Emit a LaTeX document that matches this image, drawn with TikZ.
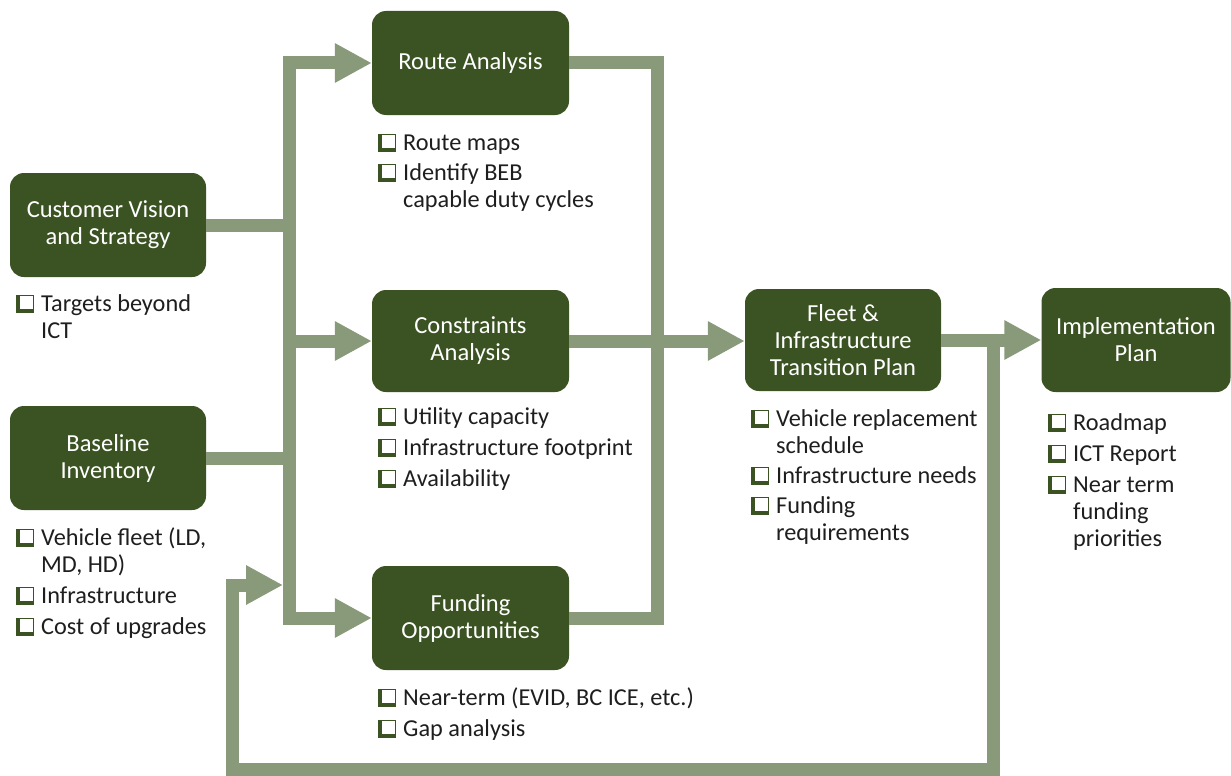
\documentclass[tikz,border=0pt]{standalone}
\usepackage{fontspec}
\setmainfont{Carlito}
\usetikzlibrary{arrows.meta}
\definecolor{boxgreen}{HTML}{3B5323}
\definecolor{bargreen}{HTML}{889A79}
\definecolor{txt}{HTML}{1E1E1E}
\newcommand\cbx{\tikz[baseline=0pt,x=1pt,y=1pt]{\fill[boxgreen](-1,-2)rectangle(17,16);\filldraw[fill=white,draw=boxgreen,line width=1pt](2.6,1.4)rectangle(16.4,15.4);}}
\newcommand\itm[1]{\makebox[25pt][l]{\cbx}#1}
\newcommand\cnt[1]{\hspace*{25pt}#1}
\tikzset{
  gbox/.style={rounded corners=14pt, fill=boxgreen, text=white, align=center, inner sep=0pt,
    font=\fontsize{24.5}{27}\selectfont},
  blist/.style={anchor=base west, align=left, inner sep=0pt, text=txt,
    font=\fontsize{24.3}{27}\selectfont},
  bar/.style={draw=bargreen, line width=13pt, line join=miter},
  tip/.style={-{Triangle[length=37pt,width=37pt]}},
}
\begin{document}
\begin{tikzpicture}[x=1pt,y=-1pt]
\useasboundingbox (0,0) rectangle (1231,776);
% boxes
\node[gbox, minimum width=196pt, minimum height=104pt] (cv) at (108,225) {Customer Vision\\and Strategy};
\node[gbox, minimum width=196pt, minimum height=104pt] (ba) at (108,458) {Baseline\\Inventory};
\node[gbox, minimum width=197pt, minimum height=104pt] (ra) at (470.5,63) {Route Analysis};
\node[gbox, minimum width=197pt, minimum height=102pt] (co) at (470.5,341) {Constraints\\Analysis};
\node[gbox, minimum width=197pt, minimum height=104pt] (fo) at (470.5,618) {Funding\\Opportunities};
\node[gbox, minimum width=196pt, minimum height=102pt] (fl) at (843,340) {Fleet \&\\Infrastructure\\Transition Plan};
\node[gbox, minimum width=189pt, minimum height=104pt] (im) at (1136,340) {Implementation\\Plan};
% lists (anchored at the baseline of their last line)
\node[blist] (cvL) at (16,338) {\itm{Targets beyond}\\\cnt{ICT}};
\node[blist] (baL) at (16,634) {\itm{Vehicle fleet (LD,}\\\cnt{MD, HD)}\\[4pt]\itm{Infrastructure}\\[4pt]\itm{Cost of upgrades}};
\node[blist] (raL) at (378,207) {\itm{Route maps}\\[3pt]\itm{Identify BEB}\\\cnt{capable duty cycles}};
\node[blist] (coL) at (378,486) {\itm{Utility capacity}\\[4pt]\itm{Infrastructure footprint}\\[4pt]\itm{Availability}};
\node[blist] (foL) at (378,736) {\itm{Near-term (EVID, BC ICE, etc.)}\\[4pt]\itm{Gap analysis}};
\node[blist] (flL) at (751,540) {\itm{Vehicle replacement}\\\cnt{schedule}\\[3pt]\itm{Infrastructure needs}\\[3pt]\itm{Funding}\\\cnt{requirements}};
\node[blist] (imL) at (1048,546) {\itm{Roadmap}\\[4pt]\itm{ICT Report}\\[4pt]\itm{Near term}\\\cnt{funding}\\\cnt{priorities}};
% bus coordinates
\coordinate (lb) at (289.5,0);
\coordinate (rb) at (657,0);
\coordinate (fb) at (993.5,0);
\coordinate (fbL) at (232,769);
\coordinate (fbEnd) at (283,585);
% connectors
\draw[bar] (cv.east) -- (cv.east -| lb);
\draw[bar] (ba.east) -- (ba.east -| lb);
\draw[bar, {Triangle[length=37pt,width=37pt]}-{Triangle[length=37pt,width=37pt]}] (ra.west) -- (ra.west -| lb) -- (fo.west -| lb) -- (fo.west);
\draw[bar, tip] (co.west -| lb) -- (co.west);
\draw[bar] (ra.east) -- (ra.east -| rb) -- (fo.east -| rb) -- (fo.east);
\draw[bar, tip] (co.east) -- (fl.west |- co.east);
\draw[bar, tip] (fl.east) -- (im.west);
\draw[bar, tip] (fl.east -| fb) |- (fbL) |- (fbEnd);
\end{tikzpicture}
\end{document}
